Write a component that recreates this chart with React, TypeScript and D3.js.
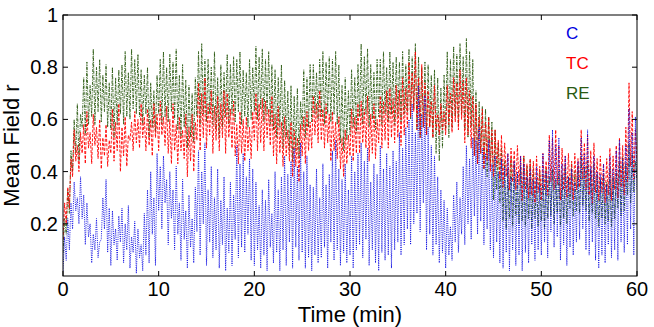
import React from 'react';
import * as d3 from 'd3';

// sampled every 10 s (6 per minute), one row per minute
const cValues = [
  0.02,0.15,0.06,0.22,0.10,0.28,
  0.18,0.36,0.25,0.30,0.20,0.38,
  0.22,0.31,0.12,0.28,0.15,0.20,
  0.05,0.16,0.10,0.22,0.07,0.13,
  0.14,0.30,0.18,0.37,0.09,0.26,
  0.04,0.25,0.12,0.18,0.06,0.23,
  0.13,0.26,0.05,0.20,0.10,0.27,
  0.03,0.15,0.09,0.21,0.01,0.18,
  0.07,0.12,0.02,0.24,0.08,0.33,
  0.05,0.40,0.16,0.30,0.04,0.47,
  0.25,0.42,0.18,0.46,0.28,0.37,
  0.12,0.40,0.22,0.33,0.10,0.42,
  0.16,0.28,0.06,0.37,0.14,0.25,
  0.03,0.31,0.11,0.22,0.05,0.34,
  0.17,0.48,0.08,0.40,0.20,0.51,
  0.04,0.33,0.13,0.42,0.07,0.30,
  0.10,0.41,0.03,0.29,0.12,0.38,
  0.02,0.26,0.09,0.36,0.04,0.31,
  0.14,0.50,0.07,0.43,0.11,0.47,
  0.09,0.38,0.16,0.45,0.06,0.41,
  0.04,0.36,0.10,0.27,0.03,0.33,
  0.08,0.29,0.02,0.37,0.11,0.24,
  0.05,0.40,0.09,0.33,0.02,0.38,
  0.10,0.46,0.04,0.39,0.13,0.44,
  0.03,0.49,0.11,0.42,0.06,0.51,
  0.09,0.40,0.03,0.46,0.07,0.35,
  0.02,0.34,0.08,0.41,0.05,0.30,
  0.07,0.43,0.11,0.35,0.03,0.39,
  0.13,0.48,0.06,0.52,0.10,0.41,
  0.04,0.37,0.09,0.43,0.05,0.33,
  0.08,0.46,0.03,0.40,0.10,0.47,
  0.12,0.51,0.07,0.44,0.14,0.49,
  0.04,0.36,0.10,0.43,0.05,0.39,
  0.02,0.50,0.09,0.41,0.06,0.47,
  0.08,0.42,0.03,0.48,0.10,0.44,
  0.13,0.55,0.08,0.49,0.12,0.57,
  0.18,0.60,0.12,0.66,0.20,0.55,
  0.24,0.73,0.17,0.62,0.28,0.69,
  0.10,0.57,0.16,0.50,0.08,0.46,
  0.12,0.38,0.05,0.33,0.09,0.29,
  0.03,0.26,0.08,0.19,0.06,0.31,
  0.13,0.36,0.09,0.30,0.16,0.42,
  0.12,0.50,0.20,0.45,0.14,0.53,
  0.23,0.52,0.16,0.57,0.21,0.49,
  0.12,0.47,0.18,0.52,0.10,0.43,
  0.07,0.46,0.13,0.40,0.05,0.45,
  0.03,0.42,0.09,0.47,0.02,0.38,
  0.10,0.44,0.04,0.40,0.08,0.46,
  0.02,0.43,0.09,0.38,0.05,0.41,
  0.12,0.37,0.06,0.42,0.10,0.35,
  0.08,0.47,0.13,0.40,0.07,0.52,
  0.17,0.56,0.11,0.50,0.15,0.53,
  0.06,0.43,0.12,0.46,0.04,0.38,
  0.11,0.41,0.08,0.36,0.13,0.44,
  0.14,0.53,0.18,0.47,0.10,0.56,
  0.08,0.42,0.13,0.46,0.06,0.40,
  0.03,0.39,0.08,0.43,0.05,0.35,
  0.12,0.46,0.07,0.41,0.10,0.48,
  0.06,0.52,0.13,0.45,0.09,0.50,
  0.12,0.64,0.18,0.55,0.08,0.61,
  0.33,
];

const tcValues = [
  0.14,0.28,0.20,0.34,0.26,0.45,
  0.38,0.56,0.44,0.50,0.40,0.55,
  0.47,0.58,0.43,0.63,0.49,0.55,
  0.43,0.62,0.50,0.57,0.45,0.60,
  0.41,0.53,0.46,0.58,0.42,0.52,
  0.47,0.64,0.44,0.59,0.48,0.66,
  0.40,0.57,0.46,0.61,0.42,0.54,
  0.52,0.59,0.48,0.63,0.51,0.60,
  0.49,0.66,0.53,0.61,0.48,0.64,
  0.50,0.60,0.46,0.66,0.53,0.62,
  0.48,0.67,0.54,0.61,0.50,0.65,
  0.47,0.60,0.43,0.66,0.48,0.58,
  0.43,0.61,0.48,0.56,0.45,0.62,
  0.38,0.57,0.44,0.62,0.40,0.59,
  0.52,0.74,0.48,0.70,0.53,0.76,
  0.49,0.66,0.54,0.71,0.47,0.65,
  0.52,0.69,0.48,0.66,0.53,0.71,
  0.47,0.70,0.53,0.64,0.49,0.67,
  0.46,0.58,0.43,0.63,0.47,0.60,
  0.44,0.61,0.48,0.57,0.45,0.63,
  0.52,0.70,0.48,0.66,0.51,0.68,
  0.48,0.67,0.53,0.64,0.50,0.69,
  0.46,0.62,0.43,0.65,0.47,0.59,
  0.42,0.61,0.46,0.56,0.44,0.59,
  0.38,0.56,0.42,0.53,0.36,0.58,
  0.46,0.61,0.43,0.63,0.48,0.59,
  0.49,0.69,0.54,0.66,0.51,0.71,
  0.52,0.64,0.49,0.66,0.51,0.62,
  0.44,0.63,0.48,0.59,0.45,0.61,
  0.41,0.53,0.38,0.56,0.43,0.54,
  0.46,0.64,0.44,0.61,0.47,0.66,
  0.47,0.67,0.51,0.64,0.49,0.69,
  0.44,0.62,0.47,0.66,0.45,0.60,
  0.51,0.69,0.49,0.67,0.52,0.71,
  0.49,0.72,0.53,0.68,0.51,0.73,
  0.53,0.71,0.50,0.76,0.54,0.72,
  0.57,0.82,0.61,0.78,0.63,0.86,
  0.56,0.76,0.53,0.81,0.57,0.74,
  0.54,0.71,0.57,0.67,0.53,0.73,
  0.56,0.62,0.54,0.66,0.56,0.63,
  0.54,0.73,0.58,0.70,0.55,0.76,
  0.59,0.74,0.56,0.79,0.60,0.75,
  0.51,0.76,0.54,0.71,0.49,0.69,
  0.46,0.66,0.43,0.61,0.47,0.64,
  0.41,0.59,0.44,0.61,0.40,0.56,
  0.38,0.56,0.42,0.52,0.37,0.54,
  0.34,0.51,0.38,0.47,0.33,0.49,
  0.36,0.48,0.33,0.50,0.35,0.46,
  0.29,0.46,0.33,0.43,0.30,0.45,
  0.31,0.44,0.28,0.46,0.32,0.42,
  0.29,0.47,0.33,0.44,0.31,0.54,
  0.36,0.53,0.33,0.56,0.35,0.50,
  0.29,0.49,0.33,0.46,0.30,0.47,
  0.32,0.44,0.29,0.47,0.33,0.45,
  0.34,0.56,0.37,0.51,0.33,0.54,
  0.31,0.48,0.28,0.51,0.32,0.45,
  0.29,0.46,0.32,0.43,0.28,0.45,
  0.31,0.49,0.29,0.46,0.33,0.50,
  0.30,0.53,0.34,0.50,0.31,0.57,
  0.36,0.74,0.42,0.63,0.37,0.56,
  0.44,
];

const reValues = [
  0.09,0.22,0.16,0.33,0.24,0.48,
  0.40,0.60,0.47,0.66,0.44,0.62,
  0.57,0.76,0.54,0.82,0.58,0.73,
  0.61,0.87,0.58,0.80,0.63,0.83,
  0.59,0.77,0.63,0.81,0.57,0.74,
  0.56,0.80,0.53,0.76,0.58,0.79,
  0.62,0.81,0.58,0.86,0.61,0.78,
  0.60,0.87,0.64,0.83,0.62,0.85,
  0.61,0.79,0.58,0.77,0.62,0.80,
  0.53,0.74,0.57,0.71,0.55,0.77,
  0.62,0.83,0.58,0.86,0.61,0.80,
  0.59,0.85,0.63,0.82,0.60,0.87,
  0.56,0.77,0.53,0.81,0.57,0.75,
  0.49,0.73,0.53,0.70,0.51,0.76,
  0.61,0.86,0.58,0.89,0.62,0.83,
  0.59,0.83,0.62,0.80,0.58,0.86,
  0.56,0.76,0.53,0.81,0.57,0.78,
  0.61,0.85,0.58,0.81,0.62,0.84,
  0.59,0.83,0.63,0.86,0.58,0.79,
  0.61,0.78,0.57,0.83,0.60,0.80,
  0.63,0.88,0.60,0.84,0.64,0.87,
  0.59,0.83,0.62,0.86,0.58,0.81,
  0.56,0.79,0.53,0.76,0.57,0.81,
  0.49,0.75,0.53,0.71,0.48,0.73,
  0.44,0.69,0.48,0.72,0.45,0.67,
  0.56,0.79,0.53,0.76,0.57,0.81,
  0.59,0.81,0.62,0.78,0.60,0.83,
  0.61,0.86,0.58,0.82,0.62,0.84,
  0.59,0.83,0.62,0.86,0.58,0.81,
  0.51,0.73,0.48,0.76,0.52,0.71,
  0.54,0.79,0.57,0.76,0.55,0.81,
  0.61,0.89,0.58,0.84,0.62,0.87,
  0.57,0.81,0.60,0.78,0.56,0.83,
  0.61,0.83,0.58,0.86,0.62,0.80,
  0.59,0.86,0.62,0.82,0.58,0.84,
  0.61,0.82,0.59,0.86,0.62,0.81,
  0.63,0.87,0.60,0.84,0.64,0.89,
  0.56,0.84,0.53,0.80,0.57,0.82,
  0.54,0.81,0.57,0.77,0.53,0.79,
  0.47,0.76,0.44,0.72,0.49,0.77,
  0.56,0.86,0.53,0.83,0.57,0.88,
  0.61,0.85,0.58,0.89,0.62,0.84,
  0.56,0.91,0.53,0.86,0.57,0.83,
  0.46,0.71,0.43,0.67,0.47,0.65,
  0.41,0.64,0.38,0.61,0.42,0.59,
  0.29,0.56,0.33,0.51,0.28,0.49,
  0.21,0.44,0.18,0.41,0.22,0.45,
  0.19,0.43,0.23,0.39,0.20,0.42,
  0.21,0.46,0.19,0.42,0.22,0.44,
  0.18,0.41,0.22,0.37,0.19,0.40,
  0.21,0.39,0.18,0.41,0.22,0.38,
  0.23,0.41,0.20,0.37,0.24,0.40,
  0.19,0.39,0.22,0.42,0.20,0.38,
  0.26,0.43,0.23,0.40,0.25,0.42,
  0.24,0.46,0.27,0.42,0.25,0.44,
  0.21,0.41,0.24,0.43,0.22,0.39,
  0.19,0.37,0.22,0.39,0.20,0.36,
  0.21,0.41,0.19,0.38,0.22,0.40,
  0.26,0.44,0.23,0.46,0.25,0.43,
  0.31,0.51,0.28,0.47,0.32,0.44,
  0.37,
];

const xTicks = [0, 10, 20, 30, 40, 50, 60];
const yTicks = [0.2, 0.4, 0.6, 0.8, 1];
const seriesNames = ['C', 'TC', 'RE'];

const W = 654;
const H = 327;
const margin = { top: 15, right: 17, bottom: 51, left: 63 };
const font = 'Liberation Sans, Arial, Helvetica, sans-serif';

const colors = ['#0000e0', '#ff0000', '#2b5a12'];
const dashes = ['1,1.2', '3,1.5', '3,1.2,1,1.2'];
// drawn back to front
const drawOrder = [2, 1, 0];

export default function App() {
  const x = d3.scaleLinear().domain([0, 60]).range([margin.left, W - margin.right]);
  const y = d3.scaleLinear().domain([0, 1]).range([H - margin.bottom, margin.top]);
  const step = 1 / 6;

  const line = d3
    .line<number>()
    .x((_, i) => x(i * step))
    .y((d) => y(d));

  const all = [cValues, tcValues, reValues];
  const x0 = x.range()[0];
  const x1 = x.range()[1];
  const y0 = y.range()[0];
  const y1 = y.range()[1];
  const tick = 5;

  return (
    <svg width={W} height={H} style={{ position: 'absolute', left: 0, top: 0, background: '#fff' }}>
      <defs>
        <clipPath id="plot">
          <rect x={x0} y={y1} width={x1 - x0} height={y0 - y1} />
        </clipPath>
      </defs>
      <g clipPath="url(#plot)">
        {drawOrder.map((k) => (
          <path
            key={k}
            d={line(all[k]) || ''}
            fill="none"
            stroke={colors[k]}
            strokeWidth={0.9}
            strokeDasharray={dashes[k]}
          />
        ))}
      </g>

      <rect x={x0} y={y1} width={x1 - x0} height={y0 - y1} fill="none" stroke="#000" strokeWidth={1} />

      {xTicks.map((t) => (
        <g key={'x' + t}>
          <line x1={x(t)} x2={x(t)} y1={y0} y2={y0 - tick} stroke="#000" />
          <line x1={x(t)} x2={x(t)} y1={y1} y2={y1 + tick} stroke="#000" />
          <text x={x(t)} y={296} textAnchor="middle" fontFamily={font} fontSize={20}>
            {t}
          </text>
        </g>
      ))}
      {yTicks.map((t) => (
        <g key={'y' + t}>
          <line x1={x0} x2={x0 + tick} y1={y(t)} y2={y(t)} stroke="#000" />
          <line x1={x1} x2={x1 - tick} y1={y(t)} y2={y(t)} stroke="#000" />
          <text x={x0 - 5} y={y(t)} dy="0.35em" textAnchor="end" fontFamily={font} fontSize={20}>
            {d3.format('')(t)}
          </text>
        </g>
      ))}

      <text x={(x0 + x1) / 2} y={322} textAnchor="middle" fontFamily={font} fontSize={22}>
        Time (min)
      </text>
      <text
        transform={`translate(19,${(y0 + y1) / 2}) rotate(-90)`}
        textAnchor="middle"
        fontFamily={font}
        fontSize={22}
      >
        Mean Field r
      </text>

      {seriesNames.map((s, i) => (
        <text key={s} x={566} y={39 + i * 30} fill={colors[i]} fontFamily={font} fontSize={17}>
          {s}
        </text>
      ))}
    </svg>
  );
}
